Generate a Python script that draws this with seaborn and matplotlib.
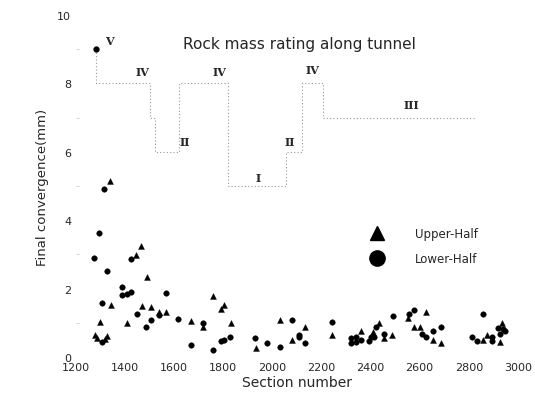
import matplotlib
matplotlib.use("Agg")
import matplotlib.pyplot as plt
import seaborn as sns
import pandas as pd
from matplotlib.lines import Line2D

# upper half (triangles)
upper_x = [1276, 1285, 1298, 1317, 1326, 1340, 1341, 1408, 1446, 1465, 1467, 1488,
           1507, 1537, 1568, 1668, 1718, 1759, 1789, 1804, 1830, 1932, 2032, 2081,
           2132, 2242, 2362, 2410, 2435, 2454, 2487, 2553, 2577, 2601, 2626, 2656,
           2686, 2856, 2876, 2926, 2936]
upper_y = [0.64, 0.55, 1.03, 0.53, 0.62, 5.15, 1.53, 1.01, 2.98, 3.25, 1.50, 2.34,
           1.47, 1.32, 1.33, 1.06, 0.88, 1.79, 1.40, 1.52, 1.01, 0.26, 1.07, 0.51,
           0.88, 0.66, 0.76, 0.74, 1.01, 0.55, 0.64, 1.13, 0.87, 0.87, 1.33, 0.50,
           0.40, 0.50, 0.65, 0.43, 0.99]

# lower half (circles)
lower_x = [1272, 1294, 1306, 1307, 1314, 1326, 1386, 1386, 1408, 1425, 1425, 1447,
           1486, 1507, 1540, 1566, 1617, 1667, 1718, 1758, 1789, 1804, 1828, 1930,
           1979, 2032, 2081, 2110, 2110, 2131, 2243, 2321, 2321, 2341, 2341, 2362,
           2394, 2400, 2415, 2421, 2454, 2490, 2555, 2575, 2610, 2625, 2654, 2686,
           2815, 2835, 2856, 2896, 2896, 2917, 2926, 2940, 2947]
lower_y = [2.90, 3.63, 1.58, 0.45, 4.91, 2.52, 2.05, 1.82, 1.83, 1.91, 2.87, 1.27,
           0.87, 1.09, 1.23, 1.87, 1.11, 0.35, 0.99, 0.22, 0.47, 0.50, 0.58, 0.56,
           0.41, 0.29, 1.09, 0.66, 0.60, 0.41, 1.02, 0.56, 0.41, 0.60, 0.45, 0.51,
           0.47, 0.60, 0.60, 0.89, 0.67, 1.20, 1.25, 1.39, 0.67, 0.60, 0.76, 0.88,
           0.58, 0.47, 1.27, 0.59, 0.47, 0.84, 0.67, 0.82, 0.77]

# rock mass rating step line
rmr_x = [1283, 1283, 1500, 1522, 1620, 1820, 2055, 2120, 2205, 2820]
rmr_y = [9, 8, 7, 6, 8, 5, 6, 8, 7, 7]

# class labels
class_names = ["V", "IV", "II", "IV", "I", "II", "IV", "III"]
class_x = [1338, 1469, 1644, 1786, 1941, 2071, 2165, 2568]
class_y = [9.25, 8.35, 6.3, 8.35, 5.25, 6.3, 8.4, 7.37]

sns.set_style("white")
plt.rcParams["font.family"] = ["DejaVu Sans"]

fig = plt.figure(figsize=(5.35, 4.06), dpi=100)
ax = fig.add_axes([0.142, 0.118, 0.826, 0.843])

up = pd.DataFrame({"x": upper_x, "y": upper_y})
lo = pd.DataFrame({"x": lower_x, "y": lower_y})

ax.plot(rmr_x, rmr_y, drawstyle="steps-post", color="#999999", lw=0.8,
        linestyle=(0, (1, 2)))
ax.plot(rmr_x[0], rmr_y[0], "o", color="black", ms=3.5)

sns.scatterplot(data=up, x="x", y="y", marker="^", color="black", s=18,
                edgecolor="black", linewidth=0.3, ax=ax)
sns.scatterplot(data=lo, x="x", y="y", marker="o", color="black", s=16,
                edgecolor="black", linewidth=0.3, ax=ax)

for name, cx, cy in zip(class_names, class_x, class_y):
    ax.text(cx, cy, name, family="DejaVu Serif", fontweight="bold",
            fontsize=8, ha="center", va="center")

ax.text(2112, 9.15, "Rock mass rating along tunnel", fontsize=11,
        ha="center", va="center")

handles = [Line2D([], [], marker="^", color="black", ls="none", ms=10),
           Line2D([], [], marker="o", color="black", ls="none", ms=11)]
ax.legend(handles, ["Upper-Half", "Lower-Half"], frameon=False,
          loc="center left", bbox_to_anchor=(0.63, 0.325), handletextpad=2.2,
          labelspacing=1.0, fontsize=8.5)

ax.set_xlim(1200, 3000)
ax.set_ylim(0, 10)
ax.set_xticks(range(1200, 3001, 200))
ax.set_yticks(range(0, 11, 2))
ax.set_yticks(range(1, 10, 2), minor=True)
ax.tick_params(labelsize=8, length=3, color="#cccccc", direction="in")
ax.tick_params(axis="y", which="minor", left=True, length=2, color="#cccccc",
               direction="in")
for sp in ax.spines.values():
    sp.set_visible(False)

ax.set_xlabel("Section number", fontsize=10, labelpad=2)
ax.set_ylabel("Final convergence(mm)", fontsize=9.5, labelpad=6)

fig.savefig("out.png", dpi=100)
